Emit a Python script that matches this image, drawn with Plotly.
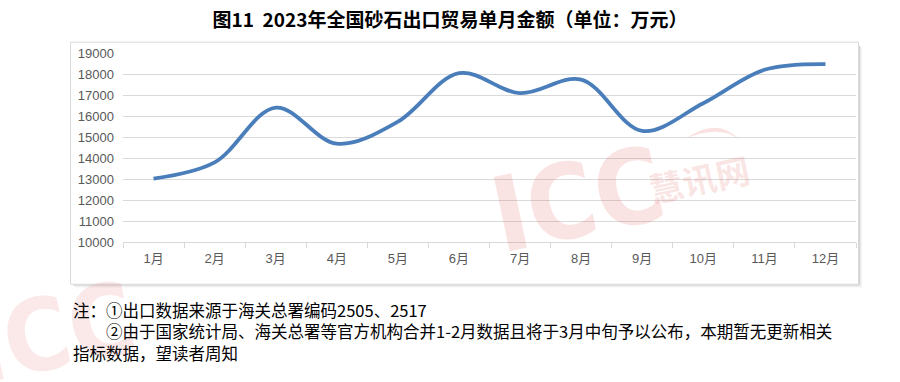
import plotly.graph_objects as go

# ---- data ----
months = ["1月", "2月", "3月", "4月", "5月", "6月", "7月", "8月", "9月", "10月", "11月", "12月"]
values = [13020, 13790, 16400, 14680, 15730, 18040, 17090, 17730, 15290, 16610, 18200, 18470]
y_ticks = [10000, 11000, 12000, 13000, 14000, 15000, 16000, 17000, 18000, 19000]

title_text = "图11  2023年全国砂石出口贸易单月金额（单位：万元）"
note1 = "注：①出口数据来源于海关总署编码2505、2517"
note2 = "　　②由于国家统计局、海关总署等官方机构合并1-2月数据且将于3月中旬予以公布，本期暂无更新相关"
note3 = "指标数据，望读者周知"

# ---- geometry (pixels) ----
W, H = 900, 382
L, R, T, B = 123, 856, 53.3, 241.7


def px(x):
    return (x - L) / (R - L)


def py(y):
    return (B - y) / (B - T)


fig = go.Figure()
fig.add_trace(go.Scatter(
    x=months, y=values, mode="lines",
    line=dict(color="#4a7ebb", width=3.8, shape="spline", smoothing=1.0),
    hoverinfo="skip", showlegend=False,
))

tick_font = dict(family="Liberation Sans, Arial, Noto Sans CJK SC", size=13, color="#595959")

fig.update_layout(
    width=W, height=H,
    margin=dict(l=L, r=W - R, t=T, b=H - B, pad=0),
    paper_bgcolor="white", plot_bgcolor="white",
    title=dict(text="<b>" + title_text + "</b>", x=0.5, xref="container", xanchor="center",
               y=1 - 20 / H, yref="container", yanchor="middle",
               font=dict(family="Noto Sans CJK SC", size=19, color="#000000")),
    xaxis=dict(
        type="category", range=[-0.5, len(months) - 0.5],
        showgrid=False, showline=True, linecolor="#d9d9d9", linewidth=1,
        ticks="outside", ticklen=5, tickcolor="#d9d9d9", tickson="boundaries",
        tickfont=tick_font, ticklabelstandoff=4, zeroline=False, fixedrange=True,
    ),
    yaxis=dict(
        range=[10000, 19000], tickvals=y_ticks, ticktext=[str(v) for v in y_ticks],
        showgrid=True, gridcolor="#d9d9d9", gridwidth=1, showline=False,
        zeroline=False, tickfont=tick_font, ticks="", ticklabelstandoff=8, fixedrange=True,
    ),
)

shapes = []
# chart frame shadow
shadow_cols = ["rgba(0,0,0,0.16)", "rgba(0,0,0,0.09)", "rgba(0,0,0,0.04)"]
for i, c in enumerate(shadow_cols):
    shapes.append(dict(type="rect", xref="paper", yref="paper",
                       x0=px(859 + i), x1=px(860 + i), y0=py(46 + i), y1=py(284 + i),
                       line=dict(width=0), fillcolor=c, layer="below"))
    shapes.append(dict(type="rect", xref="paper", yref="paper",
                       x0=px(73 + i), x1=px(860 + i), y0=py(284 + i), y1=py(285 + i),
                       line=dict(width=0), fillcolor=c, layer="below"))
# chart frame
shapes.append(dict(type="rect", xref="paper", yref="paper",
                   x0=px(70.5), x1=px(858.5), y0=py(42.5), y1=py(283.8),
                   line=dict(color="#d9d9d9", width=1), fillcolor="rgba(0,0,0,0)", layer="below"))
# watermark swoosh
p = [(687, 138), (718, 116), (741, 141), (722, 124)]
path = "M {:.5f},{:.5f} Q {:.5f},{:.5f} {:.5f},{:.5f} Q {:.5f},{:.5f} {:.5f},{:.5f} Z".format(
    px(p[0][0]), py(p[0][1]), px(p[1][0]), py(p[1][1]), px(p[2][0]), py(p[2][1]),
    px(p[3][0]), py(p[3][1]), px(p[0][0]), py(p[0][1]))
shapes.append(dict(type="path", xref="paper", yref="paper", path=path,
                   fillcolor="rgba(225,90,90,0.18)", line=dict(width=0), layer="above"))
fig.update_layout(shapes=shapes)

wm_color = "rgba(225,90,90,0.17)"
wm_font = "DejaVu Sans Condensed, Liberation Sans Narrow, Liberation Sans"
annotations = [
    dict(text="<b>ICC</b>", x=px(578), y=py(200), xref="paper", yref="paper",
         xanchor="center", yanchor="middle", showarrow=False, textangle=-12,
         font=dict(family=wm_font, size=104, color=wm_color)),
    dict(text="<b>慧讯网</b>", x=px(699), y=py(178), xref="paper", yref="paper",
         xanchor="center", yanchor="middle", showarrow=False, textangle=-12,
         font=dict(family="Noto Sans CJK SC", size=34, color=wm_color)),
    dict(text="<b>ICC</b>", x=px(52), y=py(333), xref="paper", yref="paper",
         xanchor="center", yanchor="middle", showarrow=False, textangle=-12,
         font=dict(family=wm_font, size=100, color="rgba(225,90,90,0.14)")),
]
note_font = dict(family="Noto Sans CJK SC", size=16.5, color="#000000")
annotations.append(dict(text="<br>".join([note1, note2, note3]), x=px(71), y=py(296),
                        xref="paper", yref="paper", xanchor="left", yanchor="top",
                        align="left", showarrow=False, font=note_font))
fig.update_layout(annotations=annotations)

fig.write_html("out.html")
